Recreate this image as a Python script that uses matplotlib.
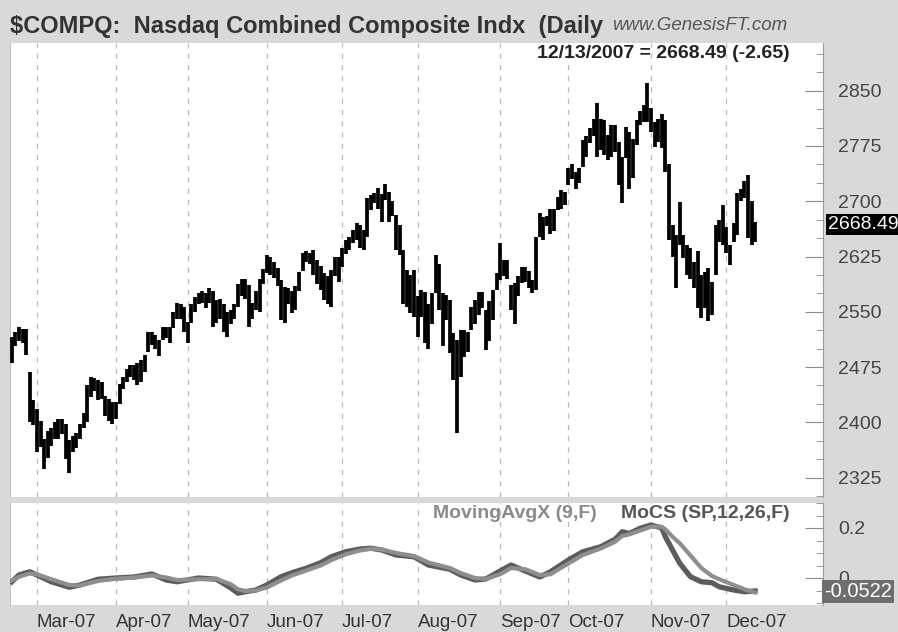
import numpy as np
import pandas as pd
import matplotlib
matplotlib.use("Agg")
import matplotlib.pyplot as plt
import matplotlib.transforms as mtransforms
from matplotlib.ticker import FixedLocator, MultipleLocator

plt.rcParams['font.family'] = ['Liberation Sans', 'DejaVu Sans']

# trading calendar (x categories)
holidays = ['2007-04-06', '2007-05-28', '2007-07-04', '2007-09-03', '2007-11-22']
dates = pd.bdate_range('2007-02-20', '2007-12-13').drop(pd.to_datetime(holidays))

# daily high / low, Feb 20 .. Dec 13
highs = [
    2516, 2522, 2530, 2526, 2526, 2468, 2430,
    2418, 2402, 2378, 2388, 2392, 2400, 2405, 2404, 2398, 2376, 2382, 2386, 2398, 2412, 2450, 2462, 2460, 2458, 2455, 2436, 2432, 2428,
    2428, 2452, 2462, 2472, 2478, 2478, 2480, 2485, 2492, 2522, 2522, 2518, 2512, 2530, 2530, 2530, 2550, 2562, 2560, 2556,
    2536, 2560, 2570, 2576, 2578, 2575, 2582, 2578, 2566, 2568, 2560, 2550, 2552, 2560, 2588, 2594, 2594, 2586, 2562, 2578, 2594, 2608,
    2627, 2624, 2618, 2610, 2593, 2584, 2582, 2578, 2585, 2604, 2630, 2632, 2630, 2634, 2620, 2612, 2602, 2598, 2607, 2625, 2625,
    2636, 2647, 2652, 2661, 2670, 2668, 2661, 2704, 2708, 2711, 2718, 2710, 2724, 2713, 2700, 2681, 2668, 2634, 2607, 2600, 2607,
    2571, 2580, 2577, 2560, 2575, 2627, 2615, 2575, 2573, 2566, 2521, 2512, 2525, 2525, 2522, 2557, 2566, 2577, 2577, 2552, 2564, 2580, 2602,
    2643, 2620, 2620, 2586, 2589, 2598, 2611, 2611, 2605, 2593, 2652, 2684, 2679, 2680, 2690, 2690, 2706, 2715, 2712,
    2745, 2750, 2740, 2745, 2783, 2788, 2800, 2812, 2833, 2812, 2810, 2790, 2803, 2803, 2781, 2760, 2801, 2794, 2785, 2810, 2822, 2831, 2860,
    2826, 2808, 2812, 2819, 2810, 2751, 2668, 2654, 2699, 2654, 2641, 2636, 2618, 2632, 2600, 2604, 2609, 2590, 2668, 2675, 2695,
    2665, 2640, 2670, 2711, 2717, 2727, 2736, 2700, 2672,
]
lows = [
    2480, 2503, 2510, 2508, 2492, 2400, 2396,
    2360, 2366, 2337, 2352, 2368, 2378, 2378, 2384, 2350, 2331, 2360, 2365, 2378, 2392, 2400, 2435, 2443, 2430, 2432, 2408, 2402, 2398,
    2405, 2425, 2445, 2455, 2462, 2458, 2450, 2455, 2468, 2495, 2505, 2500, 2490, 2512, 2515, 2508, 2528, 2540, 2540, 2522,
    2507, 2535, 2550, 2560, 2562, 2555, 2562, 2530, 2535, 2540, 2522, 2516, 2534, 2540, 2556, 2572, 2568, 2530, 2540, 2552, 2550, 2588,
    2602, 2600, 2596, 2585, 2539, 2535, 2560, 2548, 2552, 2578, 2605, 2618, 2615, 2600, 2588, 2580, 2566, 2561, 2557, 2598, 2590,
    2611, 2629, 2634, 2643, 2647, 2636, 2634, 2652, 2688, 2697, 2690, 2672, 2702, 2672, 2680, 2634, 2627, 2561, 2557, 2548, 2543,
    2516, 2543, 2508, 2500, 2534, 2575, 2552, 2503, 2539, 2494, 2457, 2386, 2462, 2489, 2495, 2525, 2534, 2545, 2555, 2498, 2510, 2539, 2580,
    2593, 2598, 2595, 2552, 2534, 2571, 2589, 2590, 2582, 2575, 2580, 2652, 2647, 2666, 2656, 2660, 2688, 2690, 2695,
    2722, 2730, 2717, 2725, 2747, 2760, 2779, 2788, 2760, 2770, 2763, 2756, 2760, 2767, 2722, 2697, 2758, 2717, 2731, 2776, 2803, 2808, 2808,
    2794, 2774, 2781, 2772, 2740, 2647, 2625, 2582, 2641, 2623, 2600, 2595, 2582, 2555, 2541, 2555, 2537, 2546, 2600, 2645, 2641,
    2630, 2613, 2645, 2654, 2700, 2704, 2650, 2641, 2645,
]

# oscillator panel, sampled along the trading-day axis
osc_days = [0, 2, 5, 7, 11, 16, 19, 24, 29, 34, 39, 43, 46, 52, 57, 61, 63, 65, 68, 71,
            75, 78, 82, 86, 89, 93, 97, 100, 103, 107, 112, 116, 122, 125, 129, 132, 136, 139,
            143, 147, 150, 155, 159, 164, 168, 170, 172, 175, 178, 181, 182, 184, 186, 189,
            192, 195, 197, 201, 204, 207]
mocs = [-0.015, 0.012, 0.025, 0.012, -0.015, -0.037, -0.028, -0.005, 0.0, 0.004, 0.016, -0.008,
        -0.015, 0.0, -0.005, -0.040, -0.061, -0.055, -0.048, -0.028, 0.005, 0.021, 0.039, 0.061,
        0.085, 0.105, 0.116, 0.119, 0.112, 0.092, 0.085, 0.052, 0.035, 0.012, -0.008, -0.004,
        0.028, 0.052, 0.028, 0.004, 0.025, 0.072, 0.105, 0.125, 0.155, 0.185, 0.178, 0.199,
        0.212, 0.200, 0.165, 0.112, 0.059, 0.005, -0.015, -0.019, -0.035, -0.048, -0.055, -0.052]
mavgx = [-0.010, 0.005, 0.018, 0.015, -0.005, -0.028, -0.030, -0.012, -0.003, 0.002, 0.010, 0.002,
         -0.008, -0.005, -0.004, -0.025, -0.045, -0.052, -0.050, -0.038, -0.010, 0.010, 0.030, 0.050,
         0.072, 0.095, 0.110, 0.117, 0.114, 0.100, 0.088, 0.062, 0.040, 0.020, 0.000, -0.004,
         0.015, 0.040, 0.035, 0.012, 0.015, 0.058, 0.092, 0.118, 0.145, 0.168, 0.175, 0.190,
         0.205, 0.205, 0.195, 0.165, 0.139, 0.090, 0.040, 0.008, -0.005, -0.028, -0.045, -0.058]

last_close = 2668.49
last_change = -2.65
last_osc = -0.0522
price_ticks = [2325, 2400, 2475, 2550, 2625, 2700, 2775, 2850]

BG = '#d9d9d9'
W, H = 898, 632
fig = plt.figure(figsize=(W / 100, H / 100), dpi=100, facecolor=BG)
ax = fig.add_axes([10 / W, 135 / H, 813 / W, 454 / H])
ax2 = fig.add_axes([10 / W, 27 / H, 813 / W, 102 / H])

x = np.arange(len(dates))
month_starts = [i for i in range(1, len(dates)) if dates[i].month != dates[i - 1].month]

for a in (ax, ax2):
    a.set_facecolor('white')
    a.set_xlim(-0.5, 225.9)
    for m in month_starts:
        a.axvline(m, color='#b8b8b8', lw=0.9, ls=(0, (4, 5)), zorder=0)
    a.set_xticks([])
    for s in ('top', 'bottom'):
        a.spines[s].set_visible(False)
    a.spines['left'].set_color('#c4c4c4')
    a.spines['right'].set_color('#9a9a9a')
    a.yaxis.tick_right()
    a.tick_params(axis='y', which='major', direction='in', length=13, color='#8a8a8a',
                  labelsize=14, labelcolor='#444444', pad=11)
    a.tick_params(axis='y', which='minor', direction='in', length=5, color='#8a8a8a')

# price bars
ax.vlines(x, lows, highs, color='black', lw=2.7, zorder=3)
ax.set_ylim(2298.7, 2914.7)
ax.yaxis.set_major_locator(FixedLocator(price_ticks))
ax.yaxis.set_minor_locator(MultipleLocator(25))

# oscillator
ax2.plot(osc_days, mocs, color='#5c5c5c', lw=3.8, solid_joinstyle='round', zorder=3)
ax2.plot(osc_days, mavgx, color='#8e8e8e', lw=3.0, solid_joinstyle='round', zorder=4)
ax2.set_ylim(-0.108, 0.30)
ax2.yaxis.set_major_locator(FixedLocator([0, 0.2]))
ax2.set_yticklabels(['0', '0.2'])
ax2.yaxis.set_minor_locator(MultipleLocator(0.05))

# month labels
tr = mtransforms.blended_transform_factory(ax2.transData, ax2.transAxes)
for m in month_starts:
    ax2.text(m, -0.17, dates[m].strftime('%b-%y'), transform=tr, ha='left', va='center',
             fontsize=13.5, color='#333333')

# last value boxes
trp = mtransforms.blended_transform_factory(ax.transAxes, ax.transData)
ax.text(1.006, last_close, f'{last_close:.2f}', transform=trp, ha='left', va='center',
        color='white', fontsize=14, zorder=10,
        bbox=dict(facecolor='black', edgecolor='none', pad=1.5))
tro = mtransforms.blended_transform_factory(ax2.transAxes, ax2.transData)
ax2.text(1.001, last_osc, f'{last_osc:.4f}', transform=tro, ha='left', va='center',
         color='white', fontsize=14.5, zorder=10,
         bbox=dict(facecolor='#6e6e6e', edgecolor='none', pad=1.5))

# headings
fig.text(10 / W, 1 - 27 / H, '$COMPQ:  Nasdaq Combined Composite Indx  (Daily',
         fontsize=17, weight='bold', color='#333333', va='center', ha='left')
fig.text(612 / W, 1 - 25 / H, 'www.GenesisFT.com', fontsize=13.5, style='italic',
         color='#555555', va='center', ha='left')
fig.text(790 / W, 1 - 53 / H,
         f"{dates[-1].strftime('%m/%d/%Y')} = {last_close:.2f} ({last_change:.2f})",
         fontsize=14, weight='bold', color='#222222', va='center', ha='right')
ax2.text((597 - 10) / 813, 0.90, 'MovingAvgX (9,F)', transform=ax2.transAxes, ha='right',
         va='center', fontsize=14, weight='bold', color='#8a8a8a')
ax2.text((790 - 10) / 813, 0.90, 'MoCS (SP,12,26,F)', transform=ax2.transAxes, ha='right',
         va='center', fontsize=14, weight='bold', color='#555555')

fig.savefig('out.png', dpi=100, facecolor=BG)
